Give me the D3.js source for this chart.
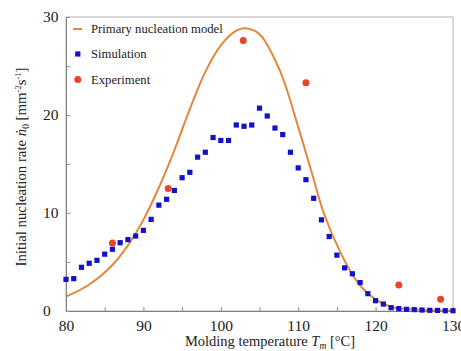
<!DOCTYPE html>
<html>
<head>
<meta charset="utf-8">
<script src="https://d3js.org/d3.v7.min.js"></script>
<style>
    body { margin: 0; background: #fff; }
    svg text { font-family: "Liberation Serif", "Times New Roman", serif; fill: #222; }
</style>
</head>
<body>
<div id="chart"></div>
<script>
    // simulation values, one per degree from 80 to 130
    var simTemps = d3.range(80, 131);
    var simValues = [3.23, 3.3, 4.46, 4.87, 5.17, 5.8, 6.3, 6.97, 7.28, 7.65,
        8.23, 9.35, 10.8, 11.4, 12.3, 13.6, 14.15, 15.7, 16.2, 17.7,
        17.4, 17.4, 18.98, 18.85, 18.98, 20.7, 19.9, 18.67, 18.0, 16.2,
        14.6, 13.4, 11.5, 9.3, 7.6, 5.7, 4.4, 3.8, 2.9, 1.77,
        1.05, 0.71, 0.34, 0.24, 0.17, 0.14, 0.1, 0.07, 0.06, 0.03, 0.03];

    var expTemps = [86, 93.2, 102.9, 111, 123, 128.4];
    var expValues = [6.94, 12.5, 27.6, 23.3, 2.65, 1.19];

    // primary nucleation model
    var modelTemps = [80, 83, 86, 88, 90, 92, 94, 96, 98, 100, 102, 103.1,
        105, 107.7, 109.8, 111.8, 113.3, 115.5, 117.6, 119.8, 121.9, 124, 127, 130];
    var modelValues = [1.46, 2.7, 4.7, 6.7, 9.3, 12.6, 16.4, 20.6, 24.4, 27.1, 28.6, 28.85,
        28.25, 24.4, 19.3, 14.0, 10.0, 5.9, 3.0, 1.3, 0.44, 0.2, 0.08, 0.04];

    var xTicks = [80, 85, 90, 95, 100, 105, 110, 115, 120, 125, 130];
    var yTicks = [0, 5, 10, 15, 20, 25, 30];
    var legendLabels = ["Primary nucleation model", "Simulation", "Experiment"];

    var width = 461, height = 351;
    var mLeft = 66, mRight = 453, mTop = 17, mBottom = 311;

    var svg = d3.select("#chart").append("svg")
        .attr("width", width).attr("height", height);

    var x = d3.scaleLinear().domain([80, 130]).range([mLeft, mRight]);
    var y = d3.scaleLinear().domain([0, 30]).range([mBottom, mTop]);

    // frame
    svg.append("rect")
        .attr("x", mLeft).attr("y", mTop)
        .attr("width", mRight - mLeft).attr("height", mBottom - mTop)
        .attr("fill", "none").attr("stroke", "#b4b4b4");

    var xAxis = d3.axisBottom(x).tickValues(xTicks).tickSize(-4).tickPadding(9)
        .tickFormat(function (d) { return d % 10 === 0 ? d : ""; });
    var gx = svg.append("g").attr("transform", "translate(0," + mBottom + ")").call(xAxis);

    var yAxis = d3.axisLeft(y).tickValues(yTicks).tickSize(-4).tickPadding(8)
        .tickFormat(function (d) { return d % 10 === 0 ? d : ""; });
    var gy = svg.append("g").attr("transform", "translate(" + mLeft + ",0)").call(yAxis);

    [gx, gy].forEach(function (g) {
        g.select(".domain").attr("stroke", "#808080");
        g.selectAll(".tick line").attr("stroke", "#909090");
        g.selectAll(".tick text").attr("font-size", 15.5)
            .attr("font-family", "Liberation Serif, Times New Roman, serif").attr("fill", "#222");
    });
    gy.selectAll(".tick text").attr("text-anchor", "start").attr("x", 43 - mLeft);

    // model curve
    var line = d3.line()
        .x(function (d) { return x(d[0]); })
        .y(function (d) { return y(d[1]); })
        .curve(d3.curveCatmullRom);

    svg.append("path")
        .datum(d3.zip(modelTemps, modelValues))
        .attr("d", line)
        .attr("fill", "none")
        .attr("stroke", "#e3883a")
        .attr("stroke-width", 2);

    svg.selectAll(".sim")
        .data(d3.zip(simTemps, simValues))
        .enter().append("rect")
        .attr("class", "sim")
        .attr("x", function (d) { return x(d[0]) - 2.6; })
        .attr("y", function (d) { return y(d[1]) - 2.6; })
        .attr("width", 5.2).attr("height", 5.2)
        .attr("fill", "#1212c8");

    svg.selectAll(".exp")
        .data(d3.zip(expTemps, expValues))
        .enter().append("circle")
        .attr("class", "exp")
        .attr("cx", function (d) { return x(d[0]); })
        .attr("cy", function (d) { return y(d[1]); })
        .attr("r", 3.5)
        .attr("fill", "#e8452e");

    // legend
    var lg = svg.append("g");
    lg.append("line").attr("x1", 73).attr("x2", 82).attr("y1", 29).attr("y2", 29)
        .attr("stroke", "#e3883a").attr("stroke-width", 2);
    lg.append("rect").attr("x", 75.2).attr("y", 51.4).attr("width", 5.2).attr("height", 5.2)
        .attr("fill", "#1212c8");
    lg.append("circle").attr("cx", 77.8).attr("cy", 79.5).attr("r", 3.5).attr("fill", "#e8452e");
    lg.selectAll("text").data(legendLabels).enter().append("text")
        .attr("x", 91)
        .attr("y", function (d, i) { return 33 + i * 25.3; })
        .attr("font-size", 12.7)
        .text(function (d) { return d; });

    // x label
    var xl = svg.append("text")
        .attr("x", 270).attr("y", 346)
        .attr("text-anchor", "middle").attr("font-size", 14.5);
    xl.append("tspan").text("Molding temperature ");
    xl.append("tspan").attr("font-style", "italic").text("T");
    xl.append("tspan").attr("font-size", 9.5).attr("font-style", "italic").attr("dy", 3).text("m");
    xl.append("tspan").attr("dy", -3).text(" [°C]");

    // y label
    var yl = svg.append("text")
        .attr("transform", "translate(26,167) rotate(-90)")
        .attr("text-anchor", "middle").attr("font-size", 14.8);
    yl.append("tspan").text("Initial nucleation rate ");
    yl.append("tspan").attr("font-style", "italic").text("ṅ");
    yl.append("tspan").attr("font-size", 9.5).attr("dy", 3).text("0");
    yl.append("tspan").attr("dy", -3).text(" [mm");
    yl.append("tspan").attr("font-size", 8.5).attr("dy", -5).text("-2");
    yl.append("tspan").attr("dy", 5).text("s");
    yl.append("tspan").attr("font-size", 8.5).attr("dy", -5).text("-1");
    yl.append("tspan").attr("dy", 5).text("]");
</script>
</body>
</html>
